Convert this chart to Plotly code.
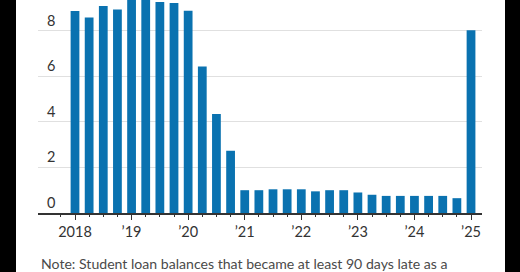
import plotly.graph_objects as go

quarters = [2018 + i * 0.25 for i in range(29)]
values = [8.86, 8.58, 9.08, 8.92, 9.50, 9.55, 9.25, 9.21,
          8.87, 6.43, 4.34, 2.73, 1.00, 1.00, 1.04, 1.04,
          1.04, 0.95, 1.00, 1.00, 0.90, 0.80, 0.75, 0.75,
          0.75, 0.75, 0.75, 0.65, 8.02]
year_ticks = [2018, 2019, 2020, 2021, 2022, 2023, 2024, 2025]
year_labels = ["2018", "’19", "’20", "’21", "’22", "’23", "’24", "’25"]
y_ticks = [0, 2, 4, 6, 8]
note = "Note: Student loan balances that became at least 90 days late as a"

W, H = 520, 272
L, R, T, B = 38, 38, 0, 59
pw, ph = W - L - R, H - T - B

FONT = "Lato"
fig = go.Figure(go.Bar(x=quarters, y=values, width=0.155,
                       marker=dict(color="#0a72b0", line=dict(width=0))))

fig.update_layout(
    width=W, height=H, margin=dict(l=L, r=R, t=T, b=B),
    paper_bgcolor="white", plot_bgcolor="white", showlegend=False,
    font=dict(family=FONT, color="#333333"),
    xaxis=dict(range=[2017.346, 2025.194], tickmode="array",
               tickvals=year_ticks, ticktext=year_labels,
               ticks="outside", ticklen=5, tickcolor="#333", tickwidth=1,
               showgrid=False, showline=True, linecolor="#333", linewidth=1.5,
               tickfont=dict(size=14.5, color="#333"),
               minor=dict(dtick=0.25, tick0=2018, ticks="outside", ticklen=2,
                          tickcolor="#333", showgrid=False),
               zeroline=False),
    yaxis=dict(range=[0, 213 / 22.8], tickmode="array", tickvals=y_ticks,
               ticktext=[str(v) for v in y_ticks],
               ticklabelposition="inside top", ticklabelstandoff=6,
               showgrid=True,
               gridcolor="#e0e0e0", gridwidth=1, zeroline=False,
               showline=False, ticks="",
               tickfont=dict(size=14.5, color="#333")),
    shapes=[
        dict(type="rect", xref="paper", yref="paper",
             x0=-L / pw, x1=(16 - L) / pw, y0=-B / ph, y1=1 + T / ph,
             fillcolor="black", line=dict(width=0), layer="above"),
        dict(type="rect", xref="paper", yref="paper",
             x0=(505 - L) / pw, x1=(W - L) / pw, y0=-B / ph, y1=1 + T / ph,
             fillcolor="black", line=dict(width=0), layer="above"),
    ],
    annotations=[dict(text=note, xref="paper", yref="paper",
                      x=(39 - L) / pw, y=-(263 - T - ph) / ph,
                      xanchor="left", yanchor="middle", showarrow=False,
                      font=dict(size=14.1, color="#4a4a4a", family=FONT))],
)
fig.write_html("out.html")
